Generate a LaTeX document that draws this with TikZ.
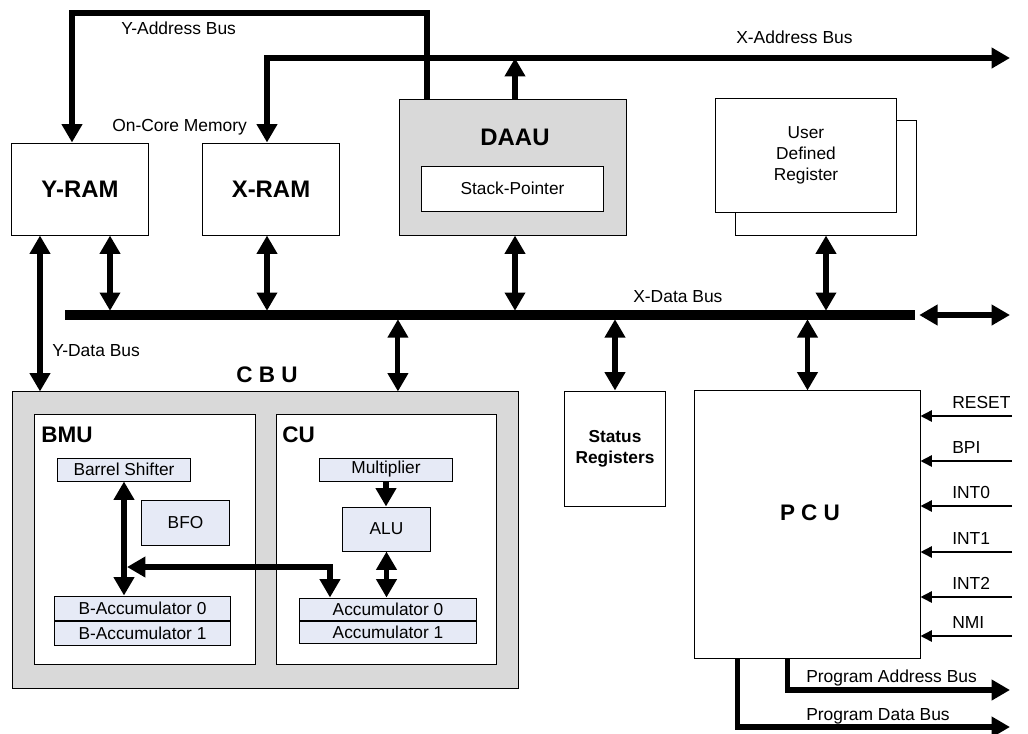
\documentclass[tikz,border=0pt]{standalone}
\usepackage{fontspec}
\setmainfont{Liberation Sans}
\usetikzlibrary{arrows.meta,positioning}
\definecolor{unitgray}{RGB}{217,217,217}
\definecolor{regblue}{RGB}{230,234,246}
\tikzset{
    block/.style = {draw, fill=white, line width=0.7pt, rectangle, inner sep=0pt, align=center, font=\fontsize{12.3}{15}\selectfont},
    unit-box/.style = {block, fill=unitgray},
    reg-box/.style = {block, fill=regblue},
    big-title/.style = {inner sep=0pt, font=\fontsize{17}{20}\selectfont\bfseries},
    unit-title/.style = {inner sep=0pt, font=\fontsize{16}{19}\selectfont\bfseries},
    bus-label/.style = {inner sep=0pt, font=\fontsize{12.4}{15}\selectfont},
    bus/.style = {line width=3.6pt},
    tap/.style = {bus, <->, shorten >=3pt},
    data-bus/.style = {line width=6.5pt},
    sig-arrow/.style = {line width=1.1pt, -{Triangle[length=8pt,width=8pt]}},
}

\begin{document}
\begin{tikzpicture}[x=0.025cm, y=-0.025cm, >={Triangle[length=13pt,width=14pt]}]
\useasboundingbox (0,0) rectangle (1028,733);

% on-core memory
\node[block, big-title, draw, fill=white, minimum width=3.4cm, minimum height=2.3cm] (yram) at (80,189) {Y-RAM};
\node[block, big-title, draw, fill=white, minimum width=3.4cm, minimum height=2.3cm] (xram) at (271,189) {X-RAM};
\node[bus-label, anchor=base west] (mem-lbl) at (112,131) {On-Core Memory};

% DAAU
\node[unit-box, minimum width=5.65cm, minimum height=3.375cm] (daau) at (513,167.5) {};
\node[big-title] (daau-title) at (515,137) {DAAU};
\node[block, minimum width=4.525cm, minimum height=1.125cm] (stack-ptr) at (512.5,188.5) {Stack-Pointer};

% user defined register
\node[block, minimum width=4.5cm, minimum height=2.875cm] (udr-back) at (826,177.5) {};
\node[block, minimum width=4.5cm, minimum height=2.85cm] (udr) at (806,155) {User\\Defined\\Register};

% address buses
\coordinate (yab-corner) at (72,13);
\coordinate (xab-corner) at (267,58);
\coordinate (xab-out) at (1010,58);
\draw[bus, ->] ([xshift=-2.15cm]daau.north) |- (yab-corner) -- (yab-corner |- yram.north);
\draw[bus, <->] (xab-corner |- xram.north) -- (xab-corner) -- (xab-out);
\draw[bus, ->] ([xshift=0.05cm]daau.north) -- ([xshift=0.05cm]daau.north |- xab-corner);
\node[bus-label, anchor=base west] (yab-lbl) at (121,34) {Y-Address Bus};
\node[bus-label, anchor=base west] (xab-lbl) at (736,43) {X-Address Bus};

% X data bus
\coordinate (xdb-l) at (65,315);
\coordinate (xdb-r) at (915,315);
\coordinate (xdb-out) at (1010,315);
\draw[data-bus] (xdb-l) -- (xdb-r);
\draw[bus, <->] ([xshift=3pt]xdb-r) -- (xdb-out);
\node[bus-label, anchor=base west] (xdb-lbl) at (633,302) {X-Data Bus};

% CBU
\node[unit-box, minimum width=12.625cm, minimum height=7.4cm] (cbu) at (265.5,540) {};
\node[unit-title, anchor=base] (cbu-title) at (267,382) {C B U};
\node[block, minimum width=5.5cm, minimum height=6.225cm] (bmu) at (145,539.5) {};
\node[unit-title, anchor=base west] (bmu-title) at (41,442) {BMU};
\node[block, minimum width=5.475cm, minimum height=6.225cm] (cu) at (386.5,539.5) {};
\node[unit-title, anchor=base west] (cu-title) at (282,442) {CU};

\node[reg-box, minimum width=3.3cm, minimum height=0.575cm] (barrel) at (124,469.5) {Barrel Shifter};
\node[reg-box, minimum width=2.175cm, minimum height=1.125cm] (bfo) at (185.5,522.5) {BFO};
\node[reg-box, minimum width=4.375cm, minimum height=0.6cm] (bacc0) at (142.5,608) {B-Accumulator 0};
\node[reg-box, minimum width=4.375cm, minimum height=0.6cm, below=0pt of bacc0] (bacc1) {B-Accumulator 1};
\node[reg-box, minimum width=3.3cm, minimum height=0.575cm] (mult) at (386,469.5) {Multiplier};
\node[reg-box, minimum width=2.175cm, minimum height=1.1cm] (alu) at (386.5,529) {ALU};
\node[reg-box, minimum width=4.4cm, minimum height=0.55cm] (acc0) at (388,609) {Accumulator 0};
\node[reg-box, minimum width=4.4cm, minimum height=0.55cm, below=0pt of acc0] (acc1) {Accumulator 1};

\draw[bus, <->] (barrel.south) -- (barrel.south |- bacc0.north);
\coordinate (bmu-join) at (127,567);
\draw[bus, <->] (bmu-join) -| ([xshift=-1.45cm]acc0.north);
\draw[bus, ->] (mult.south) -- (mult.south |- alu.north);
\draw[bus, <->] (alu.south) -- (alu.south |- acc0.north);

% status registers and PCU
\node[block, font=\fontsize{12.3}{15}\selectfont\bfseries, minimum width=2.5cm, minimum height=2.875cm] (status) at (615,448.5) {Status\\Registers};
\node[block, minimum width=5.625cm, minimum height=6.675cm] (pcu) at (807.5,524.5) {};
\node[unit-title, anchor=base] (pcu-title) at (810,520) {P C U};

% taps onto the X data bus
\draw[tap] ([xshift=0.75cm]yram.south) -- ([xshift=0.75cm]yram.south |- xdb-l);
\draw[tap] ([xshift=-0.1cm]xram.south) -- ([xshift=-0.1cm]xram.south |- xdb-l);
\draw[tap] ([xshift=0.05cm]daau.south) -- ([xshift=0.05cm]daau.south |- xdb-l);
\draw[tap] (udr-back.south) -- (udr-back.south |- xdb-l);
\draw[tap] ([xshift=3.31cm]cbu.north) -- ([xshift=3.31cm]cbu.north |- xdb-l);
\draw[tap] (status.north) -- (status.north |- xdb-l);
\draw[tap] (pcu.north) -- (pcu.north |- xdb-l);

% Y data bus
\draw[bus, <->] ([xshift=-1cm]yram.south) -- ([xshift=-1cm]yram.south |- cbu.north);
\node[bus-label, anchor=base west] (ydb-lbl) at (52,356) {Y-Data Bus};

% PCU inputs
\foreach \sig/\y in {RESET/416, BPI/461, INT0/506, INT1/552, INT2/597, NMI/636} {
    \coordinate (in-\sig) at (1012,\y);
    \draw[sig-arrow] (in-\sig) -- (in-\sig -| pcu.east);
    \node[bus-label, anchor=base west] (lbl-\sig) at (952,\y-8) {\sig};
}

% program buses
\coordinate (pab-out) at (1010,690);
\coordinate (pdb-out) at (1010,727);
\draw[bus, ->] ([xshift=-0.51cm]pcu.south) |- (pab-out);
\draw[bus, ->] ([xshift=-1.76cm]pcu.south) |- (pdb-out);
\node[bus-label, anchor=base west] (pab-lbl) at (806,682) {Program Address Bus};
\node[bus-label, anchor=base west] (pdb-lbl) at (806,720) {Program Data Bus};
\end{tikzpicture}
\end{document}
